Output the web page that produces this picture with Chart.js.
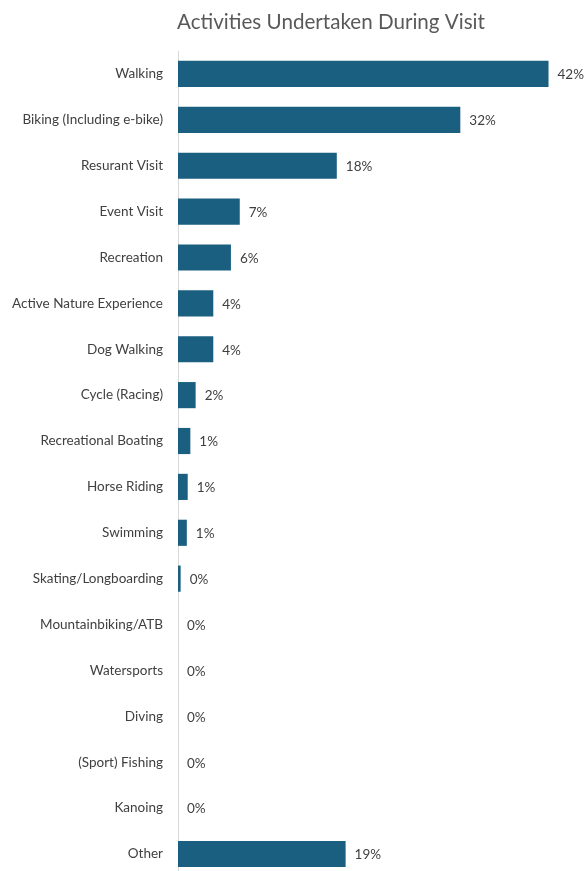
<!DOCTYPE html>
<html>
<head>
<meta charset="utf-8">
<script src="https://cdn.jsdelivr.net/npm/chart.js@4.4.1/dist/chart.umd.min.js"></script>
<style>
  html, body { margin: 0; padding: 0; background: #ffffff; overflow: hidden; }
  .wrap { width: 587px; height: 871px; overflow: hidden; }
  canvas { display: block; }
</style>
</head>
<body>
<div class="wrap"><canvas id="chart" width="587" height="900"></canvas></div>
<script>
// Activities and share of visitors (%)
const activities = [
  "Walking", "Biking (Including e-bike)", "Resurant Visit", "Event Visit",
  "Recreation", "Active Nature Experience", "Dog Walking", "Cycle (Racing)",
  "Recreational Boating", "Horse Riding", "Swimming", "Skating/Longboarding",
  "Mountainbiking/ATB", "Watersports", "Diving", "(Sport) Fishing", "Kanoing", "Other"
];
const shares = [42, 32, 18, 7, 6, 4, 4, 2, 1.4, 1.1, 1.0, 0.3, 0, 0, 0, 0, 0, 19];

const chartTitle = "Activities Undertaken During Visit";

// Title drawn above the plot, offset like the original
const titlePlugin = {
  id: "titleText",
  afterDraw(chart) {
    const { ctx } = chart;
    ctx.save();
    ctx.font = "20.6px Lato, 'Open Sans', sans-serif";
    ctx.fillStyle = "#595959";
    ctx.textAlign = "center";
    ctx.textBaseline = "middle";
    ctx.fillText(chartTitle, 331, 22);
    ctx.restore();
  },
};

// Percent labels at the end of each bar
const valueLabels = {
  id: "valueLabels",
  afterDatasetsDraw(chart) {
    const { ctx } = chart;
    const meta = chart.getDatasetMeta(0);
    ctx.save();
    ctx.font = "13.5px Lato, 'Open Sans', sans-serif";
    ctx.fillStyle = "#404040";
    ctx.textAlign = "left";
    ctx.textBaseline = "middle";
    meta.data.forEach((bar, i) => {
      ctx.fillText(Math.round(shares[i]) + "%", bar.x + 9, bar.y + 1);
    });
    ctx.restore();
  },
};

new Chart(document.getElementById("chart"), {
  type: "bar",
  data: {
    labels: activities,
    datasets: [
      {
        data: shares,
        backgroundColor: "#1a5f80",
        categoryPercentage: 1,
        barPercentage: 0.57,
      },
    ],
  },
  options: {
    indexAxis: "y",
    responsive: false,
    animation: false,
    layout: { padding: { top: 51, right: 12, bottom: 0, left: 0 } },
    plugins: {
      legend: { display: false },
      title: { display: false },
      tooltip: { enabled: false },
    },
    scales: {
      x: {
        display: false,
        min: 0,
        max: 45,
      },
      y: {
        afterFit(scale) {
          scale.width = 178;
        },
        grid: { display: false, drawTicks: false },
        border: { display: true, color: "#d9d9d9", width: 1 },
        ticks: {
          padding: 15,
          color: "#404040",
          font: { family: "Lato, 'Open Sans', sans-serif", size: 13.5 },
        },
      },
    },
  },
  plugins: [titlePlugin, valueLabels],
});
</script>
</body>
</html>
